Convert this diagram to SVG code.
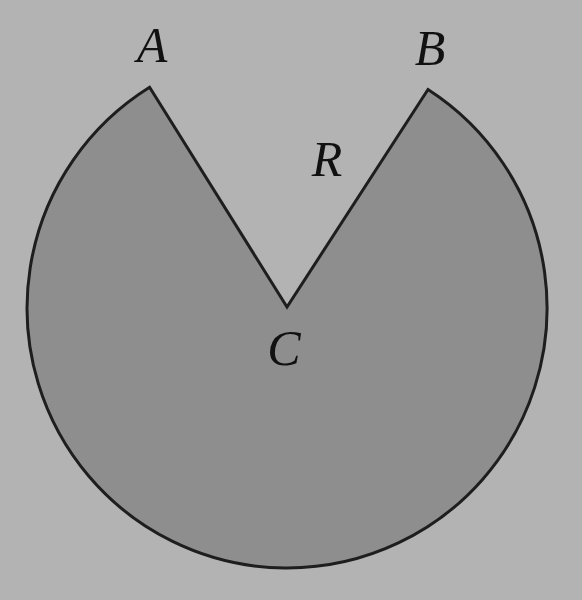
<svg xmlns="http://www.w3.org/2000/svg" width="582" height="600" viewBox="0 0 582 600">
  <style>
    .lbl { font-family: "Liberation Serif", "Times New Roman", serif; font-style: italic; font-size: 50px; fill: #111; text-anchor: middle; }
  </style>
  <rect x="0" y="0" width="582" height="600" fill="#b3b3b3"/>
  <g id="region">
    <path d="M 287 307 L 149.6 87.3 A 260 260 0 1 0 428 89.5 Z" fill="#8e8e8e" stroke="#1e1e1e" stroke-width="3" stroke-linejoin="miter"/>
  </g>
  <g id="labels">
    <text class="lbl" x="152" y="62">A</text>
    <text class="lbl" x="430" y="65">B</text>
    <text class="lbl" x="327" y="176">R</text>
    <text class="lbl" x="284" y="365">C</text>
  </g>
</svg>
